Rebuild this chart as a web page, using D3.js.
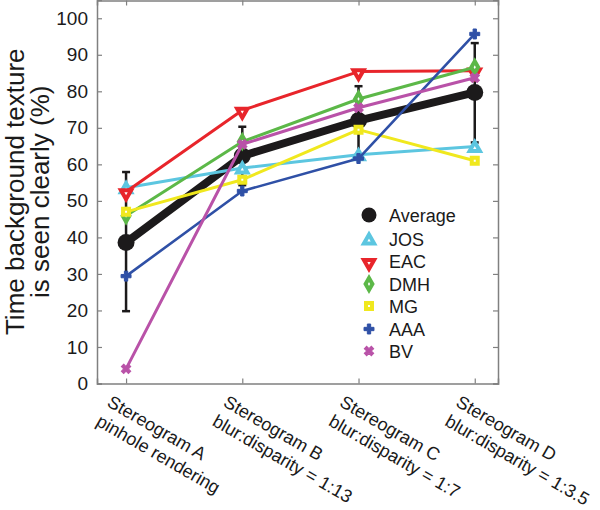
<!DOCTYPE html>
<html><head><meta charset="utf-8">
<script src="https://cdn.jsdelivr.net/npm/d3@7"></script>
<style>body{margin:0;background:#fff}svg{display:block;font-family:"Liberation Sans",Arial,sans-serif}</style>
</head><body><svg id="c" width="600" height="510"></svg>
<script>
const categories = [1, 2, 3, 4];
const tickLine1 = ["Stereogram A", "Stereogram B", "Stereogram C", "Stereogram D"];
const tickLine2 = ["pinhole rendering", "blur:disparity = 1:13", "blur:disparity = 1:7", "blur:disparity = 1:3.5"];
const yTicks = [0, 10, 20, 30, 40, 50, 60, 70, 80, 90, 100];
const average = [38.6, 62.3, 72.0, 79.7];
const errLow = [19.8, 54.3, 62.6, 66.0];
const errHigh = [57.9, 70.3, 81.4, 93.2];
const jos = [53.6, 59.0, 62.6, 64.9];
const eac = [52.5, 74.8, 85.4, 85.6];
const dmh = [45.9, 66.2, 77.9, 86.6];
const mg = [47.0, 55.8, 69.5, 61.0];
const aaa = [29.4, 52.7, 61.6, 95.7];
const bv = [4.0, 65.5, 75.5, 83.7];
const seriesNames = ["JOS", "EAC", "DMH", "MG", "AAA", "BV"];

const svg = d3.select("#c");
const x = d3.scaleLinear().domain([0.75, 4.2]).range([97, 498]);
const y = d3.scaleLinear().domain([0, 105]).range([383.5, 0]);

const series = [
  {name: "JOS", vals: jos, color: "#5cc6e0", sym: d3.symbolTriangle, rot: 0, w: 3},
  {name: "EAC", vals: eac, color: "#e8252b", sym: d3.symbolTriangle, rot: 180, w: 3},
  {name: "DMH", vals: dmh, color: "#5cb848", sym: d3.symbolDiamond, rot: 0, w: 3},
  {name: "MG", vals: mg, color: "#f0e81e", sym: d3.symbolSquare, rot: 0, w: 3},
  {name: "AAA", vals: aaa, color: "#2f50a6", sym: d3.symbolCross, rot: 0, w: 2.6},
  {name: "BV", vals: bv, color: "#b952a8", sym: d3.symbolCross, rot: 45, w: 3}
];

// axes box
const axisColor = "#808080";
const gL = svg.append("g").attr("transform", `translate(${x.range()[0]},0)`)
  .call(d3.axisLeft(y).tickValues(yTicks).tickSize(-5).tickPadding(9));
const gR = svg.append("g").attr("transform", `translate(${x.range()[1]},0)`)
  .call(d3.axisRight(y).tickValues(yTicks).tickSize(-5).tickFormat(""));
const gB = svg.append("g").attr("transform", `translate(0,${y(0)})`)
  .call(d3.axisBottom(x).tickValues(categories).tickSize(-5).tickFormat(""));
const gT = svg.append("g").attr("transform", `translate(0,0.5)`)
  .call(d3.axisTop(x).tickValues(categories).tickSize(-5).tickFormat(""));
[gL, gR, gB, gT].forEach(g => {
  g.selectAll(".domain").attr("stroke", axisColor).attr("stroke-width", 1.5);
  g.selectAll(".tick line").attr("stroke", axisColor).attr("stroke-width", 1.2);
});
gL.selectAll(".tick text").attr("font-size", 19).attr("fill", "#1a1a1a")
  .attr("font-family", "Liberation Sans, Arial, sans-serif");

// y label
const yl = svg.append("g").attr("transform", `translate(0,${(y(0) + y(105)) / 2}) rotate(-90)`);
yl.append("text").attr("x", 0).attr("y", 24).attr("text-anchor", "middle")
  .attr("font-size", 26).attr("fill", "#1a1a1a").text("Time background texture");
yl.append("text").attr("x", 0).attr("y", 49).attr("text-anchor", "middle")
  .attr("font-size", 26).attr("fill", "#1a1a1a").text("is seen clearly (%)");

// x tick labels
categories.forEach((c, i) => {
  const g = svg.append("g").attr("transform", `translate(${x(c) - 13},${y(0) + 10}) rotate(30)`);
  g.append("text").attr("x", 0).attr("y", 14).attr("font-size", 18).attr("fill", "#1a1a1a").text(tickLine1[i]);
  g.append("text").attr("x", 0).attr("y", 36).attr("font-size", 18).attr("fill", "#1a1a1a").text(tickLine2[i]);
});

const line = d3.line().x((d, i) => x(categories[i])).y(d => y(d));

// average with error bars
svg.append("path").attr("d", line(average)).attr("fill", "none")
  .attr("stroke", "#1c1a1b").attr("stroke-width", 8).attr("stroke-linejoin", "round");
categories.forEach((c, i) => {
  svg.append("line").attr("x1", x(c)).attr("x2", x(c)).attr("y1", y(errLow[i])).attr("y2", y(errHigh[i]))
    .attr("stroke", "#1c1a1b").attr("stroke-width", 2.5);
  [errLow[i], errHigh[i]].forEach(v => svg.append("line").attr("x1", x(c) - 4).attr("x2", x(c) + 4)
    .attr("y1", y(v)).attr("y2", y(v)).attr("stroke", "#1c1a1b").attr("stroke-width", 2.5));
});
svg.selectAll(".avgpt").data(average).enter().append("circle")
  .attr("cx", (d, i) => x(categories[i])).attr("cy", d => y(d)).attr("r", 8.5).attr("fill", "#1c1a1b");

function marker(g, s, cx, cy, scale) {
  const isCross = s.sym === d3.symbolCross;
  const size = (isCross ? 55 : (s.sym === d3.symbolSquare ? 36 : (s.sym === d3.symbolDiamond ? 40 : 45))) * scale;
  g.append("path").attr("d", d3.symbol().type(s.sym).size(size)())
    .attr("transform", `translate(${cx},${cy}) rotate(${s.rot})` + (s.rot === 180 ? " translate(0,-1.5)" : (s.sym === d3.symbolTriangle ? " translate(0,1.5)" : "")))
    .attr("fill", isCross ? s.color : "#fff").attr("stroke", s.color)
    .attr("stroke-width", isCross ? 1 : 4).attr("stroke-linejoin", "miter");
}

series.forEach(s => {
  svg.append("path").attr("d", line(s.vals)).attr("fill", "none")
    .attr("stroke", s.color).attr("stroke-width", s.w).attr("stroke-linejoin", "round");
  s.vals.forEach((v, i) => marker(svg, s, x(categories[i]), y(v), 1));
});

// legend
const legY = [215, 239, 261.5, 284, 306, 329, 351];
const lg = svg.append("g");
lg.append("circle").attr("cx", 369).attr("cy", legY[0]).attr("r", 7.5).attr("fill", "#1c1a1b");
lg.append("text").attr("x", 389).attr("y", legY[0] + 6.5).attr("font-size", 18).attr("fill", "#1a1a1a").text("Average");
series.forEach((s, i) => {
  marker(lg, s, 369, legY[i + 1], 1);
  lg.append("text").attr("x", 389).attr("y", legY[i + 1] + 6.5).attr("font-size", 18).attr("fill", "#1a1a1a").text(seriesNames[i]);
});
</script></body></html>
